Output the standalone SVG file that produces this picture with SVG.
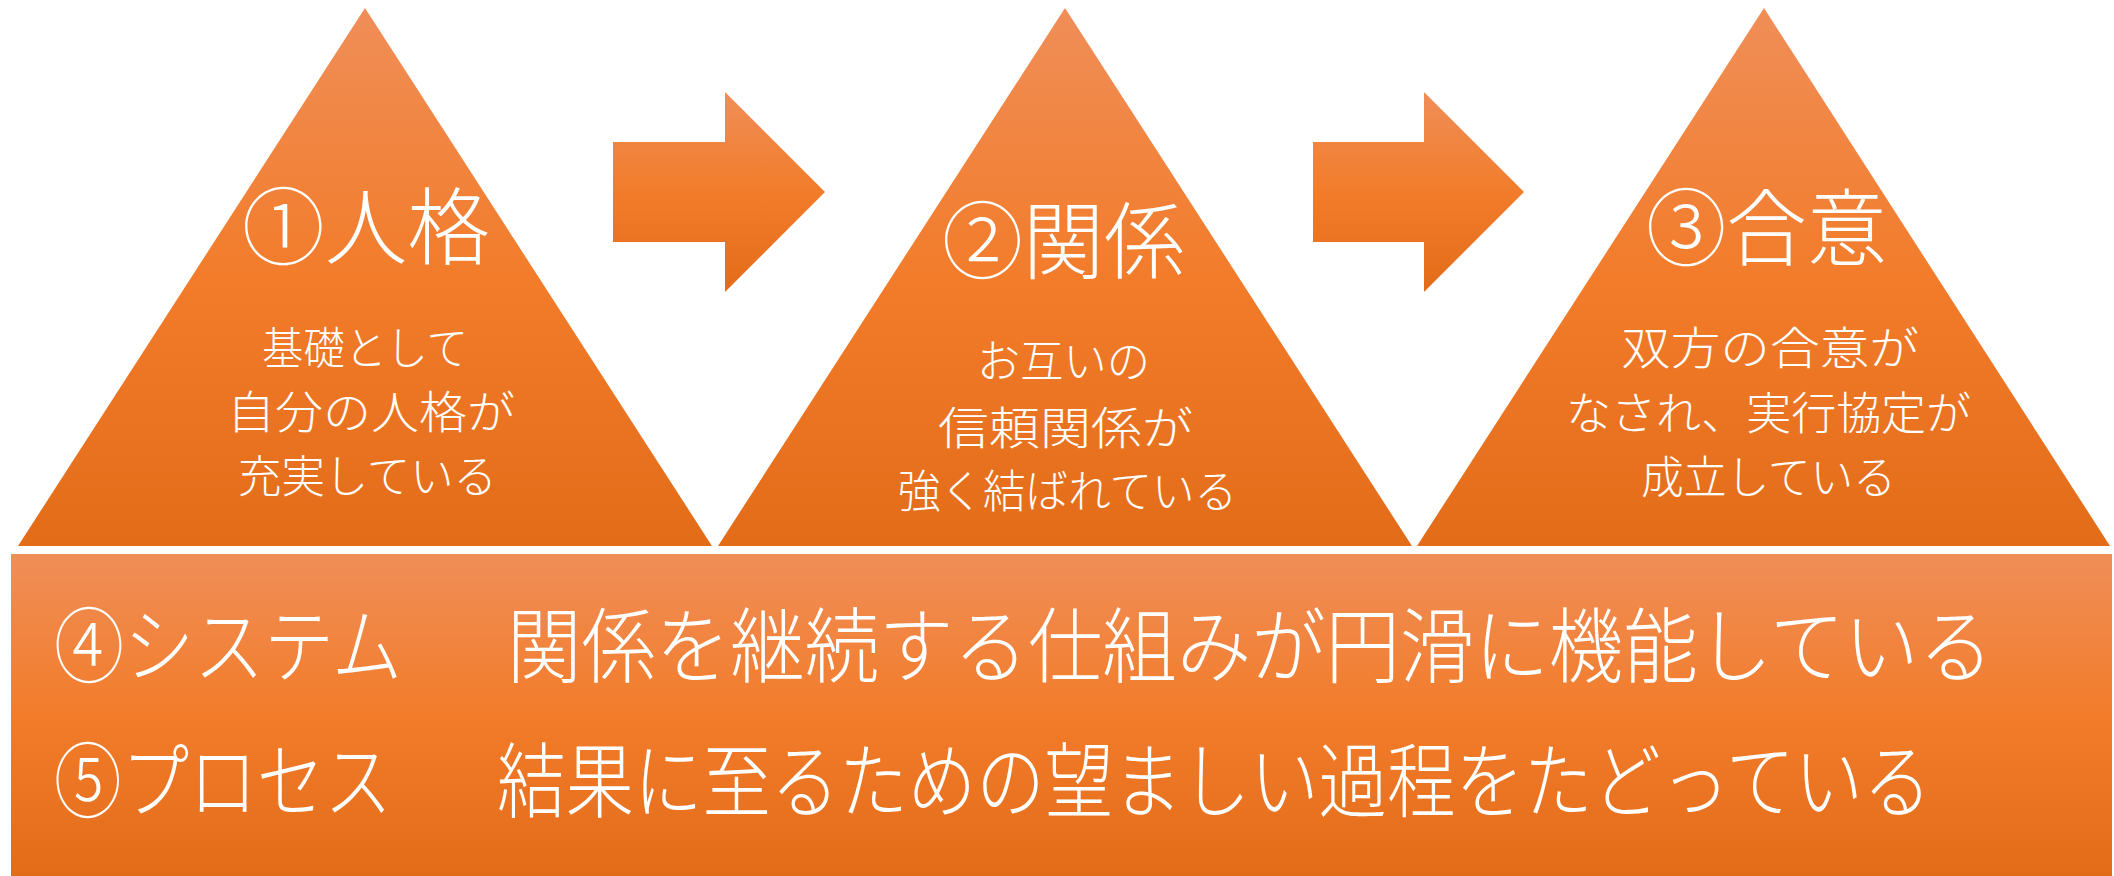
<svg xmlns="http://www.w3.org/2000/svg" width="2114" height="876" viewBox="0 0 2114 876">
<defs>
<linearGradient id="g" x1="0" y1="0" x2="0" y2="1">
<stop offset="0" stop-color="#F08E58"/>
<stop offset="0.5" stop-color="#F27C2A"/>
<stop offset="1" stop-color="#E36C19"/>
</linearGradient>
<style>
.shape{fill:url(#g);}
.t{fill:#FFFFFF;font-family:"Noto Sans CJK JP","Noto Sans CJK SC",sans-serif;font-weight:300;}
.title{font-size:84px;}
.sub{font-size:45px;}
.row{font-size:82px;}
</style>
</defs>
<rect width="2114" height="876" fill="#FFFFFF"/>
<g id="connectors">
<polygon class="shape" points="613,142 725,142 725,92 825,192 725,292 725,242 613,242"/>
<polygon class="shape" points="1313,142 1424,142 1424,92 1524,192 1424,292 1424,242 1313,242"/>
</g>
<g id="node-jinkaku">
<polygon class="shape" points="365,8 18,546 712,546"/>
<text class="t title" x="242" y="258" textLength="248" lengthAdjust="spacingAndGlyphs">①人格</text>
<text class="t sub" x="262" y="365" textLength="206" lengthAdjust="spacingAndGlyphs">基礎として</text>
<text class="t sub" x="227" y="429" textLength="288" lengthAdjust="spacingAndGlyphs">自分の人格が</text>
<text class="t sub" x="238" y="493" textLength="259" lengthAdjust="spacingAndGlyphs">充実している</text>
</g>
<g id="node-kankei">
<polygon class="shape" points="1065,8 718,546 1412,546"/>
<text class="t title" x="942" y="272" textLength="243" lengthAdjust="spacingAndGlyphs">②関係</text>
<text class="t sub" x="977" y="378" textLength="173" lengthAdjust="spacingAndGlyphs">お互いの</text>
<text class="t sub" x="938" y="445" textLength="255" lengthAdjust="spacingAndGlyphs">信頼関係が</text>
<text class="t sub" x="898" y="508" textLength="339" lengthAdjust="spacingAndGlyphs">強く結ばれている</text>
</g>
<g id="node-goui">
<polygon class="shape" points="1764,8 1417,546 2110,546"/>
<text class="t title" x="1646" y="259" textLength="241" lengthAdjust="spacingAndGlyphs">③合意</text>
<text class="t sub" x="1621" y="365" textLength="298" lengthAdjust="spacingAndGlyphs">双方の合意が</text>
<text class="t sub" x="1566" y="430" textLength="405" lengthAdjust="spacingAndGlyphs">なされ、実行協定が</text>
<text class="t sub" x="1641" y="494" textLength="255" lengthAdjust="spacingAndGlyphs">成立している</text>
</g>
<g id="node-bottom">
<rect class="shape" x="11" y="554" width="2101" height="322"/>
<text class="t row" transform="translate(54 676) scale(0.849 1)" x="0" y="0" textLength="410" lengthAdjust="spacingAndGlyphs">④システム</text>
<text class="t row" transform="translate(507 676) scale(0.863 1)" x="0" y="0" textLength="1722" lengthAdjust="spacingAndGlyphs">関係を継続する仕組みが円滑に機能している</text>
<text class="t row" transform="translate(54 811) scale(0.824 1)" x="0" y="0" textLength="410" lengthAdjust="spacingAndGlyphs">⑤プロセス</text>
<text class="t row" transform="translate(497 811) scale(0.833 1)" x="0" y="0" textLength="1722" lengthAdjust="spacingAndGlyphs">結果に至るための望ましい過程をたどっている</text>
</g>
</svg>
